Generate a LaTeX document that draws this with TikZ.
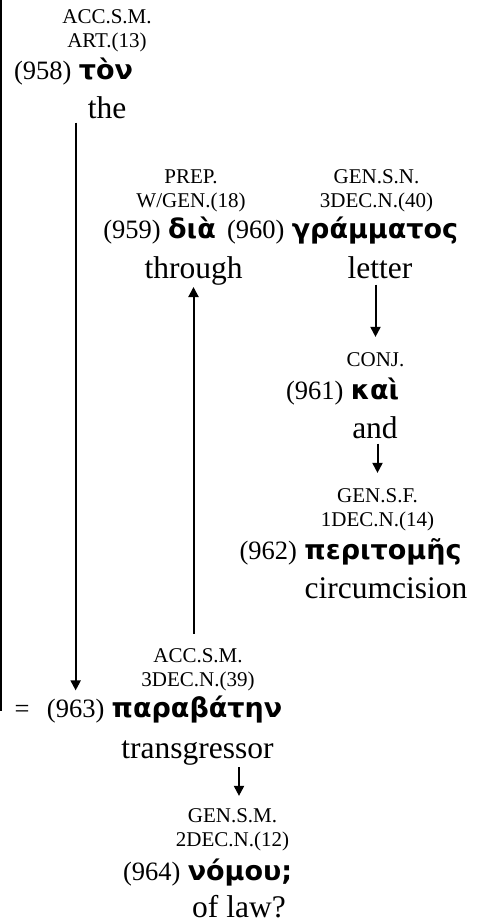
\documentclass[tikz,border=0pt]{standalone}
\usepackage{fontspec}
\setmainfont{Liberation Serif}
\newfontfamily\grkfont{DejaVu Sans}
\usetikzlibrary{positioning,arrows.meta}
\tikzset{
  morph/.style={font=\fontsize{21}{24}\selectfont, align=center, anchor=base, inner sep=0pt},
  num/.style={font=\fontsize{26.5}{30}\selectfont, anchor=base, inner sep=0pt},
  greek/.style={font=\grkfont\bfseries\fontsize{27}{30}\selectfont, anchor=base, inner sep=0pt},
  gloss/.style={font=\fontsize{31.5}{36}\selectfont, anchor=base, inner sep=0pt},
  arr/.style={line width=2pt, -{Triangle[length=10pt,width=10pt]}}
}
\begin{document}
\begin{tikzpicture}[x=1pt,y=-1pt]
  \useasboundingbox (0,0) rectangle (486,924);
  % 958
  \node [morph] (m958) at (107,47) {ACC.S.M.\\ART.(13)};
  \node [greek] (w958) at (106,79) {τὸν};
  \node [num, base left=7pt of w958] (n958) {(958)};
  \node [gloss] (g958) at (107,118) {the};
  % 959 and 960
  \node [morph] (m959) at (191,207) {PREP.\\W/GEN.(18)};
  \node [greek] (w959) at (192,238) {διὰ};
  \node [num, base left=7pt of w959] (n959) {(959)};
  \node [gloss] (g959) at (193.5,278) {through};
  \node [morph] (m960) at (376.5,207) {GEN.S.N.\\3DEC.N.(40)};
  \node [greek] (w960) at (375,238) {γράμματος};
  \node [num, base left=7pt of w960] (n960) {(960)};
  \node [gloss] (g960) at (380,278) {letter};
  % 961 and 962
  \node [morph] (m961) at (375.5,366) {CONJ.};
  \node [greek] (w961) at (375,399) {καὶ};
  \node [num, base left=7pt of w961] (n961) {(961)};
  \node [gloss] (g961) at (375,438) {and};
  \node [morph] (m962) at (377.5,526) {GEN.S.F.\\1DEC.N.(14)};
  \node [greek] (w962) at (383,559) {περιτομῆς};
  \node [num, base left=7pt of w962] (n962) {(962)};
  \node [gloss] (g962) at (386,598) {circumcision};
  % 963
  \node [morph] (m963) at (198,686) {ACC.S.M.\\3DEC.N.(39)};
  \node [greek] (w963) at (197,717) {παραβάτην};
  \node [num, base left=7pt of w963] (n963) {(963)};
  \node [num, base left=17pt of n963] (eq) {=};
  \node [gloss] (g963) at (197.5,758) {transgressor};
  % 964
  \node [morph] (m964) at (232.5,846) {GEN.S.M.\\2DEC.N.(12)};
  \node [greek] (w964) at (240,880) {νόμου;};
  \node [num, base left=7pt of w964] (n964) {(964)};
  \node [gloss] (g964) at (239,917) {of law?};
  % connectors
  \coordinate (top) at (1.2,0);
  \draw [line width=2.4pt] (top) -- (top |- eq.center);
  \draw [arr, shorten <=4pt, shorten >=8pt] (g958.south -| n963.north) -- (n963.north);
  \draw [arr, shorten <=14pt, shorten >=2pt] (m963.north -| g959.south) -- (g959.south);
  \draw [arr, shorten <=6pt, shorten >=15pt] (g960.south -| m961.north) -- (m961.north);
  \draw [arr, shorten <=5pt, shorten >=15pt] (g961.south -| m962.north) -- (m962.north);
  \draw [arr, shorten <=2pt, shorten >=12pt] (g963.south -| g964.north) -- (g964.north |- m964.north);
\end{tikzpicture}
\end{document}
